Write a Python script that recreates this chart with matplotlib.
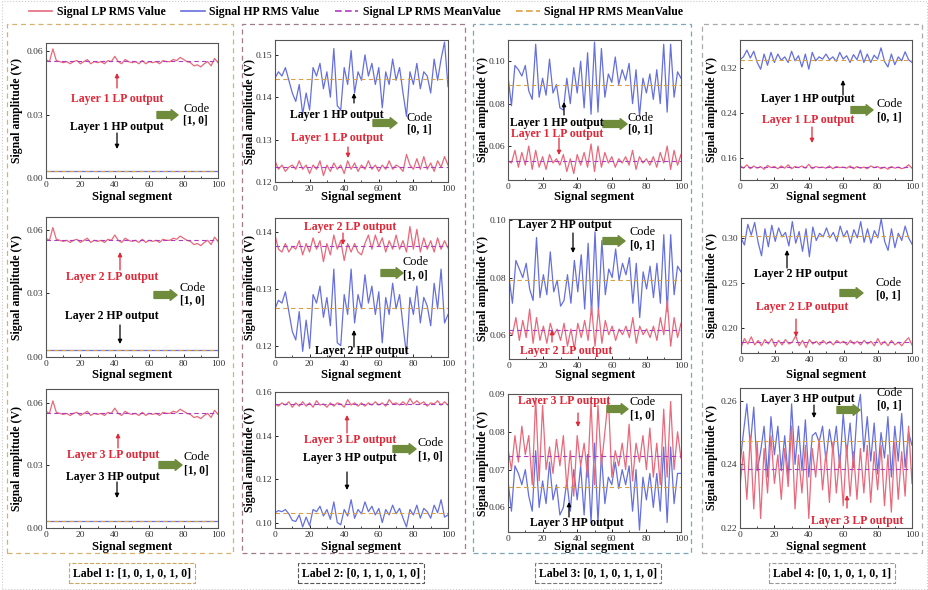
import numpy as np
import matplotlib
matplotlib.use('Agg')
import matplotlib.pyplot as plt
from matplotlib.lines import Line2D
from matplotlib.patches import Rectangle
from matplotlib.ticker import MultipleLocator

plt.rcParams['font.family'] = ['Liberation Serif', 'DejaVu Serif']

W, H = 929, 590

# segment index of every plotted point
segments = list(range(0, 101, 2))

# ---- data (V) ----
# label 1: all three layers give the same traces
c1_lp = [0.0560, 0.0550, 0.0610, 0.0555, 0.0550, 0.0545, 0.0550, 0.0540, 0.0550, 0.0555,
         0.0540, 0.0550, 0.0560, 0.0540, 0.0550, 0.0545, 0.0550, 0.0540, 0.0555, 0.0550,
         0.0575, 0.0550, 0.0540, 0.0560, 0.0550, 0.0545, 0.0550, 0.0540, 0.0555, 0.0540,
         0.0550, 0.0545, 0.0550, 0.0540, 0.0555, 0.0550, 0.0550, 0.0560, 0.0555, 0.0570,
         0.0560, 0.0550, 0.0545, 0.0530, 0.0535, 0.0525, 0.0540, 0.0550, 0.0530, 0.0565,
         0.0545]
c1_hp = [0.0035, 0.0035, 0.0035, 0.0035, 0.0035, 0.0035, 0.0035, 0.0035, 0.0035, 0.0035,
         0.0035, 0.0035, 0.0035, 0.0035, 0.0035, 0.0035, 0.0035, 0.0035, 0.0035, 0.0035,
         0.0035, 0.0035, 0.0035, 0.0035, 0.0035, 0.0035, 0.0035, 0.0035, 0.0035, 0.0035,
         0.0035, 0.0035, 0.0035, 0.0035, 0.0035, 0.0035, 0.0035, 0.0035, 0.0035, 0.0035,
         0.0035, 0.0035, 0.0035, 0.0035, 0.0035, 0.0035, 0.0035, 0.0035, 0.0035, 0.0035,
         0.0035]
c1_lp_mean, c1_hp_mean = 0.0552, 0.0035

# label 2
c2r1_hp = [0.1445, 0.1460, 0.1450, 0.1470, 0.1440, 0.1410, 0.1390, 0.1430, 0.1360, 0.1410,
           0.1370, 0.1470, 0.1450, 0.1480, 0.1420, 0.1460, 0.1400, 0.1515, 0.1380, 0.1370,
           0.1470, 0.1430, 0.1510, 0.1410, 0.1460, 0.1440, 0.1500, 0.1450, 0.1480, 0.1430,
           0.1470, 0.1375, 0.1460, 0.1430, 0.1490, 0.1440, 0.1470, 0.1410, 0.1355, 0.1460,
           0.1430, 0.1480, 0.1420, 0.1460, 0.1450, 0.1410, 0.1490, 0.1440, 0.1490, 0.1530,
           0.1425]
c2r1_lp = [0.1250, 0.1230, 0.1240, 0.1225, 0.1235, 0.1240, 0.1230, 0.1250, 0.1230, 0.1240,
           0.1220, 0.1240, 0.1230, 0.1250, 0.1215, 0.1240, 0.1225, 0.1245, 0.1230, 0.1240,
           0.1220, 0.1250, 0.1230, 0.1245, 0.1225, 0.1240, 0.1230, 0.1250, 0.1230, 0.1240,
           0.1225, 0.1240, 0.1230, 0.1250, 0.1230, 0.1240, 0.1235, 0.1225, 0.1265, 0.1240,
           0.1230, 0.1255, 0.1230, 0.1260, 0.1230, 0.1245, 0.1225, 0.1250, 0.1235, 0.1260,
           0.1240]
c2r1_lp_mean, c2r1_hp_mean = 0.1235, 0.1443

c2r2_lp = [0.1395, 0.1370, 0.1365, 0.1380, 0.1365, 0.1375, 0.1370, 0.1385, 0.1360, 0.1380,
           0.1365, 0.1390, 0.1370, 0.1385, 0.1348, 0.1380, 0.1360, 0.1395, 0.1370, 0.1385,
           0.1350, 0.1380, 0.1365, 0.1380, 0.1365, 0.1360, 0.1380, 0.1395, 0.1370, 0.1395,
           0.1375, 0.1390, 0.1365, 0.1385, 0.1370, 0.1395, 0.1370, 0.1385, 0.1365, 0.1410,
           0.1370, 0.1405, 0.1365, 0.1390, 0.1370, 0.1385, 0.1365, 0.1390, 0.1370, 0.1385,
           0.1372]
c2r2_hp = [0.1265, 0.1280, 0.1275, 0.1295, 0.1260, 0.1225, 0.1210, 0.1260, 0.1190, 0.1245,
           0.1195, 0.1290, 0.1275, 0.1305, 0.1250, 0.1285, 0.1235, 0.1335, 0.1205, 0.1200,
           0.1290, 0.1255, 0.1335, 0.1240, 0.1290, 0.1265, 0.1325, 0.1275, 0.1305, 0.1255,
           0.1295, 0.1205, 0.1285, 0.1255, 0.1310, 0.1265, 0.1290, 0.1235, 0.1185, 0.1285,
           0.1255, 0.1305, 0.1240, 0.1285, 0.1270, 0.1235, 0.1310, 0.1265, 0.1335, 0.1240,
           0.1255]
c2r2_lp_mean, c2r2_hp_mean = 0.1375, 0.1267

c2r3_lp = [0.1545, 0.1535, 0.1550, 0.1540, 0.1555, 0.1530, 0.1550, 0.1535, 0.1555, 0.1535,
           0.1550, 0.1530, 0.1560, 0.1540, 0.1545, 0.1530, 0.1550, 0.1535, 0.1550, 0.1545,
           0.1530, 0.1565, 0.1540, 0.1550, 0.1535, 0.1550, 0.1535, 0.1550, 0.1540, 0.1555,
           0.1540, 0.1550, 0.1535, 0.1565, 0.1545, 0.1550, 0.1540, 0.1555, 0.1540, 0.1570,
           0.1545, 0.1560, 0.1545, 0.1555, 0.1535, 0.1550, 0.1545, 0.1560, 0.1540, 0.1555,
           0.1540]
c2r3_hp = [0.1045, 0.1055, 0.1050, 0.1060, 0.1040, 0.1010, 0.1005, 0.1035, 0.0980, 0.1025,
           0.0985, 0.1060, 0.1050, 0.1075, 0.1030, 0.1060, 0.1015, 0.1095, 0.1000, 0.0990,
           0.1060, 0.1030, 0.1105, 0.1020, 0.1060, 0.1040, 0.1095, 0.1050, 0.1075, 0.1035,
           0.1065, 0.1000, 0.1060, 0.1035, 0.1080, 0.1040, 0.1065, 0.1020, 0.0980, 0.1060,
           0.1035, 0.1080, 0.1020, 0.1065, 0.1050, 0.1020, 0.1080, 0.1045, 0.1105, 0.1025,
           0.1035]
c2r3_lp_mean, c2r3_hp_mean = 0.1545, 0.1045

# label 3
c3r1_hp = [0.093, 0.079, 0.098, 0.096, 0.093, 0.098, 0.086, 0.082, 0.108, 0.083,
           0.092, 0.084, 0.101, 0.085, 0.089, 0.078, 0.077, 0.092, 0.080, 0.097,
           0.085, 0.100, 0.078, 0.104, 0.075, 0.109, 0.076, 0.106, 0.083, 0.094,
           0.090, 0.102, 0.089, 0.096, 0.091, 0.099, 0.080, 0.096, 0.074, 0.092,
           0.085, 0.094, 0.082, 0.096, 0.080, 0.108, 0.076, 0.108, 0.083, 0.095,
           0.092]
c3r1_lp = [0.053, 0.052, 0.058, 0.050, 0.057, 0.051, 0.060, 0.049, 0.058, 0.050,
           0.055, 0.049, 0.056, 0.052, 0.054, 0.051, 0.056, 0.048, 0.054, 0.047,
           0.056, 0.051, 0.057, 0.050, 0.061, 0.048, 0.060, 0.050, 0.057, 0.052,
           0.055, 0.050, 0.054, 0.052, 0.055, 0.051, 0.058, 0.049, 0.055, 0.052,
           0.054, 0.051, 0.055, 0.050, 0.057, 0.052, 0.060, 0.049, 0.058, 0.051,
           0.056]
c3r1_lp_mean, c3r1_hp_mean = 0.053, 0.089

c3r2_hp = [0.080, 0.071, 0.086, 0.083, 0.080, 0.085, 0.076, 0.072, 0.094, 0.073,
           0.081, 0.074, 0.089, 0.075, 0.079, 0.070, 0.072, 0.081, 0.071, 0.086,
           0.075, 0.088, 0.069, 0.092, 0.067, 0.096, 0.068, 0.093, 0.074, 0.083,
           0.080, 0.090, 0.079, 0.085, 0.081, 0.087, 0.071, 0.085, 0.066, 0.082,
           0.076, 0.084, 0.073, 0.085, 0.071, 0.095, 0.068, 0.095, 0.074, 0.084,
           0.082]
c3r2_lp = [0.061, 0.060, 0.066, 0.058, 0.065, 0.059, 0.069, 0.057, 0.066, 0.058,
           0.063, 0.057, 0.064, 0.060, 0.062, 0.058, 0.064, 0.056, 0.062, 0.055,
           0.064, 0.059, 0.065, 0.058, 0.070, 0.056, 0.069, 0.057, 0.065, 0.060,
           0.063, 0.058, 0.062, 0.060, 0.063, 0.059, 0.066, 0.057, 0.063, 0.060,
           0.062, 0.059, 0.063, 0.058, 0.066, 0.060, 0.072, 0.056, 0.066, 0.059,
           0.064]
c3r2_lp_mean, c3r2_hp_mean = 0.0615, 0.079

c3r3_lp = [0.0755, 0.070, 0.079, 0.072, 0.0815, 0.074, 0.079, 0.066, 0.089, 0.067,
           0.087, 0.070, 0.076, 0.069, 0.078, 0.071, 0.079, 0.065, 0.075, 0.063,
           0.079, 0.071, 0.077, 0.068, 0.088, 0.066, 0.087, 0.071, 0.080, 0.089,
           0.068, 0.075, 0.071, 0.077, 0.070, 0.082, 0.067, 0.077, 0.072, 0.079,
           0.070, 0.081, 0.068, 0.077, 0.066, 0.086, 0.068, 0.088, 0.070, 0.080,
           0.073]
c3r3_hp = [0.067, 0.059, 0.071, 0.069, 0.066, 0.070, 0.063, 0.059, 0.075, 0.060,
           0.067, 0.061, 0.072, 0.062, 0.066, 0.058, 0.060, 0.067, 0.059, 0.070,
           0.062, 0.071, 0.058, 0.074, 0.056, 0.077, 0.056, 0.074, 0.061, 0.068,
           0.066, 0.072, 0.065, 0.070, 0.066, 0.071, 0.059, 0.070, 0.054, 0.068,
           0.062, 0.069, 0.060, 0.069, 0.059, 0.076, 0.056, 0.076, 0.061, 0.069,
           0.069]
c3r3_lp_mean, c3r3_hp_mean = 0.0735, 0.0655

# label 4
c4r1_hp = [0.335, 0.340, 0.352, 0.338, 0.350, 0.330, 0.318, 0.345, 0.325, 0.348,
           0.330, 0.345, 0.334, 0.340, 0.330, 0.350, 0.333, 0.342, 0.322, 0.345,
           0.318, 0.348, 0.333, 0.340, 0.336, 0.345, 0.335, 0.340, 0.332, 0.348,
           0.336, 0.342, 0.330, 0.344, 0.335, 0.352, 0.330, 0.345, 0.330, 0.343,
           0.336, 0.356, 0.332, 0.322, 0.345, 0.326, 0.340, 0.333, 0.349, 0.335,
           0.330]
c4r1_lp = [0.147, 0.142, 0.148, 0.141, 0.146, 0.142, 0.145, 0.140, 0.147, 0.143,
           0.145, 0.141, 0.146, 0.142, 0.148, 0.141, 0.145, 0.143, 0.146, 0.142,
           0.149, 0.141, 0.145, 0.143, 0.144, 0.142, 0.146, 0.141, 0.145, 0.143,
           0.144, 0.142, 0.146, 0.141, 0.145, 0.142, 0.144, 0.141, 0.146, 0.143,
           0.145, 0.141, 0.144, 0.140, 0.145, 0.142, 0.144, 0.141, 0.143, 0.148,
           0.142]
c4r1_lp_mean, c4r1_hp_mean = 0.144, 0.335

c4r2_hp = [0.300, 0.292, 0.315, 0.303, 0.317, 0.295, 0.280, 0.310, 0.290, 0.314,
           0.296, 0.311, 0.301, 0.306, 0.291, 0.318, 0.294, 0.307, 0.285, 0.310,
           0.279, 0.312, 0.297, 0.305, 0.301, 0.311, 0.300, 0.306, 0.296, 0.313,
           0.301, 0.308, 0.294, 0.309, 0.300, 0.318, 0.295, 0.310, 0.294, 0.308,
           0.300, 0.321, 0.296, 0.286, 0.310, 0.289, 0.305, 0.297, 0.313, 0.300,
           0.293]
c4r2_lp = [0.178, 0.188, 0.182, 0.190, 0.181, 0.186, 0.180, 0.187, 0.182, 0.188,
           0.179, 0.186, 0.181, 0.187, 0.182, 0.184, 0.191, 0.180, 0.186, 0.178,
           0.187, 0.182, 0.185, 0.181, 0.186, 0.182, 0.185, 0.181, 0.186, 0.183,
           0.185, 0.181, 0.186, 0.182, 0.185, 0.181, 0.186, 0.182, 0.185, 0.180,
           0.188, 0.181, 0.185, 0.180, 0.186, 0.181, 0.184, 0.180, 0.185, 0.189,
           0.181]
c4r2_lp_mean, c4r2_hp_mean = 0.184, 0.302

c4r3_hp = [0.240, 0.250, 0.259, 0.246, 0.258, 0.238, 0.244, 0.252, 0.236, 0.255,
           0.243, 0.252, 0.238, 0.249, 0.236, 0.259, 0.240, 0.252, 0.238, 0.254,
           0.236, 0.249, 0.250, 0.247, 0.252, 0.241, 0.251, 0.244, 0.252, 0.239,
           0.256, 0.243, 0.253, 0.239, 0.256, 0.262, 0.244, 0.255, 0.241, 0.253,
           0.237, 0.250, 0.242, 0.255, 0.236, 0.252, 0.241, 0.256, 0.239, 0.250,
           0.246]
c4r3_lp = [0.233, 0.244, 0.229, 0.249, 0.226, 0.247, 0.223, 0.245, 0.231, 0.249,
           0.234, 0.243, 0.229, 0.245, 0.233, 0.252, 0.226, 0.243, 0.231, 0.246,
           0.223, 0.245, 0.236, 0.248, 0.232, 0.244, 0.228, 0.247, 0.231, 0.243,
           0.227, 0.246, 0.230, 0.244, 0.229, 0.245, 0.231, 0.246, 0.228, 0.244,
           0.232, 0.246, 0.227, 0.243, 0.225, 0.247, 0.229, 0.244, 0.230, 0.252,
           0.234]
c4r3_lp_mean, c4r3_hp_mean = 0.2385, 0.2475

labels = ['Label 1: [1, 0, 1, 0, 1, 0]', 'Label 2: [0, 1, 1, 0, 1, 0]',
          'Label 3: [0, 1, 0, 1, 1, 0]', 'Label 4: [0, 1, 0, 1, 0, 1]']

RED = '#e8697b'
BLUE = '#6670dd'
PURPLE = '#b03bc0'
ORANGE = '#dba040'
TXT_RED = '#e02838'
GREEN = '#6f8b3c'


def fx(x):
    return x / W


def fy(y):
    return 1 - y / H


# panel: (row, col, box px (l, t, r, b), lp, hp, lp mean, hp mean, ylim, yticks)
panels = [
    (0, 0, (46, 43, 218, 178), c1_lp, c1_hp, c1_lp_mean, c1_hp_mean, (0, 0.0638), [0, 0.03, 0.06]),
    (0, 1, (275, 40, 448, 182), c2r1_lp, c2r1_hp, c2r1_lp_mean, c2r1_hp_mean, (0.12, 0.1535), [0.12, 0.13, 0.14, 0.15]),
    (0, 2, (508, 40, 681, 180), c3r1_lp, c3r1_hp, c3r1_lp_mean, c3r1_hp_mean, (0.044, 0.11), [0.06, 0.08, 0.10]),
    (0, 3, (740, 40, 912, 180), c4r1_lp, c4r1_hp, c4r1_lp_mean, c4r1_hp_mean, (0.121, 0.37), [0.16, 0.24, 0.32]),
    (1, 0, (46, 217, 218, 357), c1_lp, c1_hp, c1_lp_mean, c1_hp_mean, (0, 0.066), [0, 0.03, 0.06]),
    (1, 1, (275, 218, 448, 357), c2r2_lp, c2r2_hp, c2r2_lp_mean, c2r2_hp_mean, (0.118, 0.1425), [0.12, 0.13, 0.14]),
    (1, 2, (509, 219, 681, 359), c3r2_lp, c3r2_hp, c3r2_lp_mean, c3r2_hp_mean, (0.0515, 0.1005), [0.06, 0.08, 0.10]),
    (1, 3, (741, 218, 912, 353), c4r2_lp, c4r2_hp, c4r2_lp_mean, c4r2_hp_mean, (0.172, 0.322), [0.20, 0.25, 0.30]),
    (2, 0, (46, 389, 218, 528), c1_lp, c1_hp, c1_lp_mean, c1_hp_mean, (0, 0.0667), [0, 0.03, 0.06]),
    (2, 1, (275, 392, 448, 528), c2r3_lp, c2r3_hp, c2r3_lp_mean, c2r3_hp_mean, (0.0975, 0.16), [0.10, 0.12, 0.14, 0.16]),
    (2, 2, (508, 394, 681, 532), c3r3_lp, c3r3_hp, c3r3_lp_mean, c3r3_hp_mean, (0.0535, 0.09), [0.06, 0.07, 0.08, 0.09]),
    (2, 3, (740, 388, 912, 528), c4r3_lp, c4r3_hp, c4r3_lp_mean, c4r3_hp_mean, (0.22, 0.264), [0.22, 0.24, 0.26]),
]

ylabel_x = [17, 250, 483, 712]
xlabel_y = [197, 375, 547]

# annotations in figure pixels
notes = {
    (0, 0): [('t', 117, 99, 'Layer 1 LP output', TXT_RED), ('a', 117, 88, 73, TXT_RED),
             ('t', 117, 127, 'Layer 1 HP output', 'k'), ('a', 117, 133, 149, 'k'),
             ('g', 157, 178, 115), ('c', 183, 109, 120, '[1, 0]')],
    (0, 1): [('a', 354, 103, 93, 'k'), ('t', 337, 115, 'Layer 1 HP output', 'k'),
             ('t', 337, 138, 'Layer 1 LP output', TXT_RED), ('a', 348, 147, 158, TXT_RED),
             ('g', 373, 397, 123), ('c', 407, 118, 129, '[0, 1]')],
    (0, 2): [('a', 564, 115, 102, 'k'), ('t', 557, 123, 'Layer 1 HP output', 'k'),
             ('t', 557, 134, 'Layer 1 LP output', TXT_RED), ('a', 559, 138, 155, TXT_RED),
             ('g', 603, 627, 124), ('c', 628, 118, 129, '[0, 1]')],
    (0, 3): [('a', 843, 95, 80, 'k'), ('t', 808, 99, 'Layer 1 HP output', 'k'),
             ('t', 808, 120, 'Layer 1 LP output', TXT_RED), ('a', 812, 127, 143, TXT_RED),
             ('g', 851, 873, 110), ('c', 877, 104, 117, '[0, 1]')],
    (1, 0): [('a', 120, 270, 252, TXT_RED), ('t', 112, 277, 'Layer 2 LP output', TXT_RED),
             ('g', 154, 177, 295), ('c', 180, 288, 300, '[1, 0]'),
             ('t', 112, 316, 'Layer 2 HP output', 'k'), ('a', 120, 325, 344, 'k')],
    (1, 1): [('t', 350, 227, 'Layer 2 LP output', TXT_RED), ('a', 343, 233, 245, TXT_RED),
             ('g', 381, 403, 273), ('c', 403, 262, 275, '[1, 0]'),
             ('a', 354, 347, 330, 'k'), ('t', 362, 351, 'Layer 2 HP output', 'k')],
    (1, 2): [('t', 565, 225, 'Layer 2 HP output', 'k'), ('a', 573, 233, 253, 'k'),
             ('g', 603, 625, 241), ('c', 630, 232, 245, '[0, 1]'),
             ('a', 552, 342, 330, TXT_RED), ('t', 566, 351, 'Layer 2 LP output', TXT_RED)],
    (1, 3): [('a', 787, 268, 250, 'k'), ('t', 801, 274, 'Layer 2 HP output', 'k'),
             ('g', 840, 863, 293), ('c', 876, 283, 295, '[0, 1]'),
             ('t', 802, 307, 'Layer 2 LP output', TXT_RED), ('a', 796, 319, 337, TXT_RED)],
    (2, 0): [('a', 118, 448, 433, TXT_RED), ('t', 113, 455, 'Layer 3 LP output', TXT_RED),
             ('g', 159, 182, 465), ('c', 184, 457, 470, '[1, 0]'),
             ('t', 113, 477, 'Layer 3 HP output', 'k'), ('a', 117, 482, 498, 'k')],
    (2, 1): [('a', 347, 433, 415, TXT_RED), ('t', 350, 440, 'Layer 3 LP output', TXT_RED),
             ('g', 393, 416, 449), ('c', 418, 443, 456, '[1, 0]'),
             ('t', 350, 458, 'Layer 3 HP output', 'k'), ('a', 347, 472, 490, 'k')],
    (2, 2): [('t', 564, 401, 'Layer 3 LP output', TXT_RED), ('a', 578, 413, 427, TXT_RED),
             ('g', 607, 628, 409), ('c', 630, 402, 415, '[1, 0]'),
             ('a', 569, 517, 502, 'k'), ('t', 577, 523, 'Layer 3 HP output', 'k')],
    (2, 3): [('t', 808, 399, 'Layer 3 HP output', 'k'), ('a', 814, 405, 418, 'k'),
             ('g', 837, 860, 410), ('c', 877, 393, 405, '[0, 1]'),
             ('a', 847, 508, 495, TXT_RED), ('t', 857, 521, 'Layer 3 LP output', TXT_RED)],
}

fig = plt.figure(figsize=(W / 100, H / 100), dpi=100)

for r, c, (l, t, rt, b), lp, hp, lpm, hpm, ylim, yticks in panels:
    ax = fig.add_axes([fx(l), fy(b), (rt - l) / W, (b - t) / H])
    ax.plot(segments, hp, color=BLUE, lw=0.9)
    ax.plot(segments, lp, color=RED, lw=0.9)
    ax.axhline(lpm, color=PURPLE, lw=0.8, ls=(0, (4, 3)))
    ax.axhline(hpm, color=ORANGE, lw=0.8, ls=(0, (4, 3)))
    ax.set_xlim(0, 100)
    ax.set_ylim(*ylim)
    ax.set_xticks([0, 20, 40, 60, 80, 100])
    ax.xaxis.set_minor_locator(MultipleLocator(10))
    ax.set_yticks(yticks)
    ax.set_yticklabels(['%.2f' % v for v in yticks])
    ax.tick_params(direction='in', length=2.5, width=0.6, labelsize=6.8,
                   labelcolor='#333333', pad=2)
    ax.tick_params(which='minor', direction='in', length=1.5, width=0.5)
    for s in ax.spines.values():
        s.set_color('#555555')
        s.set_linewidth(0.8)
    ax.set_xlabel('Signal segment', fontsize=9, fontweight='bold')
    ax.set_ylabel('Signal amplitude (V)', fontsize=8.5, fontweight='bold')
    ax.xaxis.set_label_coords(0.5, (b - xlabel_y[r]) / (b - t))
    ax.xaxis.label.set_va('center')
    ax.yaxis.set_label_coords((ylabel_x[c] - l) / (rt - l), 0.5)
    ax.yaxis.label.set_va('center')

    for n in notes[(r, c)]:
        if n[0] == 't':
            fig.text(fx(n[1]), fy(n[2]), n[3], color=n[4], fontsize=8.5,
                     fontweight='bold', ha='center', va='center')
        elif n[0] == 'a':
            ax.annotate('', xy=(fx(n[1]), fy(n[3])), xytext=(fx(n[1]), fy(n[2])),
                        xycoords='figure fraction', textcoords='figure fraction',
                        arrowprops=dict(arrowstyle='-|>', color=n[4], lw=0.9,
                                        mutation_scale=6, shrinkA=0, shrinkB=0))
        elif n[0] == 'g':
            ax.annotate('', xy=(fx(n[2]), fy(n[3])), xytext=(fx(n[1]), fy(n[3])),
                        xycoords='figure fraction', textcoords='figure fraction',
                        arrowprops=dict(arrowstyle='simple,head_width=1.1,head_length=0.7,tail_width=0.7',
                                        color=GREEN, mutation_scale=7, shrinkA=0, shrinkB=0))
        else:
            fig.text(fx(n[1]), fy(n[2]), 'Code', fontsize=8.8, ha='left', va='center')
            fig.text(fx(n[1]), fy(n[3]), n[4], fontsize=8.3, fontweight='bold',
                     ha='left', va='center')

# dashed frame round every label column
col_boxes = [(7, 233, '#d8b070'), (242, 465, '#a07a8c'), (473, 691, '#7fa6b8'), (702, 922, '#aaaaaa')]
for x0, x1, col in col_boxes:
    fig.add_artist(Rectangle((fx(x0), fy(553)), (x1 - x0) / W, (553 - 24) / H,
                             transform=fig.transFigure, fill=False, ec=col,
                             lw=0.9, ls=(0, (4, 3))))

label_x = [132, 361, 598, 832]
label_ec = ['#c8a860', '#555555', '#777777', '#999999']
for lx, txt, ec in zip(label_x, labels, label_ec):
    fig.text(fx(lx), fy(573), txt, fontsize=8.5, fontweight='bold', ha='center', va='center',
             bbox=dict(boxstyle='square,pad=0.3', fc='white', ec=ec, lw=0.8, ls='--'))

fig.add_artist(Rectangle((0.002, 0.002), 0.996, 0.996, transform=fig.transFigure,
                         fill=False, ec='#cccccc', lw=0.8, ls=':'))

handles = [Line2D([], [], color=RED, lw=1.2),
           Line2D([], [], color=BLUE, lw=1.2),
           Line2D([], [], color=PURPLE, lw=1.2, ls=(0, (4, 2))),
           Line2D([], [], color=ORANGE, lw=1.2, ls=(0, (4, 2)))]
fig.legend(handles, ['Signal LP RMS Value', 'Signal HP RMS Value',
                     'Signal LP RMS MeanValue', 'Signal HP RMS MeanValue'],
           loc='center', bbox_to_anchor=(fx(356), fy(12)), ncol=4, frameon=False,
           handlelength=2.0, columnspacing=1.3, handletextpad=0.4,
           prop=dict(weight='bold', size=8.5))

fig.savefig('out.png', dpi=100)
